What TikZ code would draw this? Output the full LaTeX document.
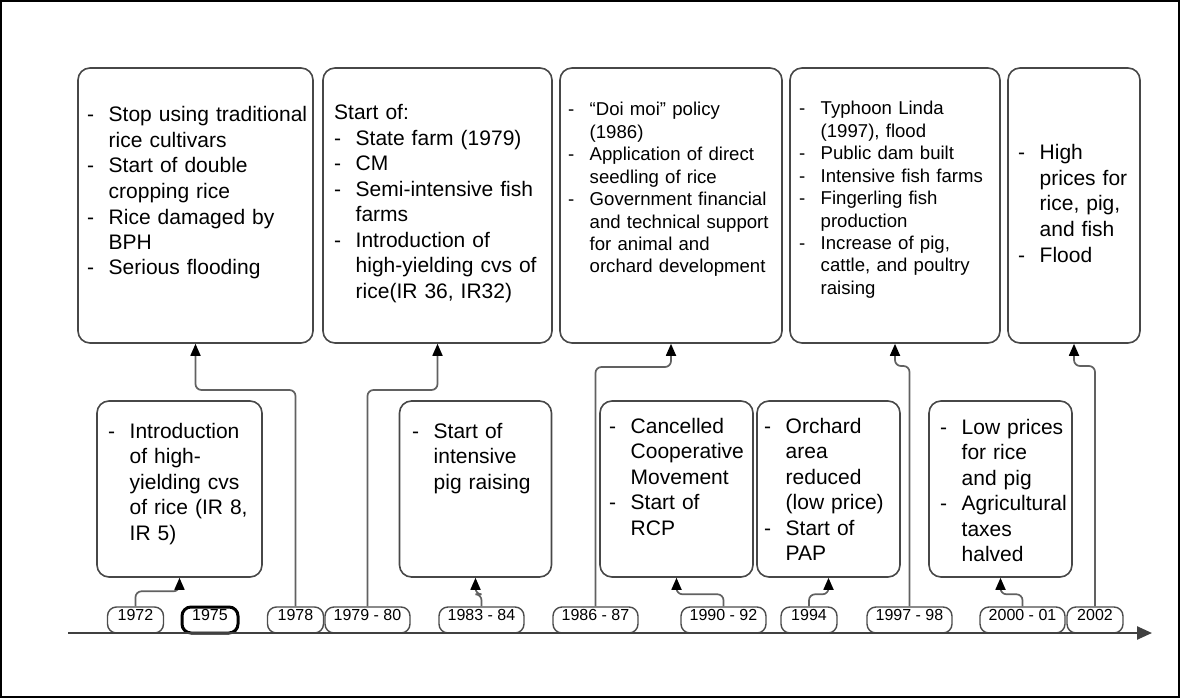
\documentclass[tikz,border=0pt]{standalone}
\usepackage{fontspec}
\setmainfont{Liberation Sans}
\usetikzlibrary{arrows.meta}

\newcommand{\itm}{\makebox[21.5pt][l]{-}}
\newcommand{\cont}{\hspace*{21.5pt}}

\begin{document}
\begin{tikzpicture}[x=1pt, y=-1pt, % pixel like coordinates, y going down
	> = {Triangle[length=12pt,width=10pt,color=black]}, % arrow head style
	eventbox/.style={draw=black!72, line width=1.6pt, rounded corners=12pt, fill=white, inner sep=0pt},
	evtext/.style={anchor=base west, align=left, text width=240pt, inner sep=0pt, font=\fontsize{21}{25.5}\selectfont},
	evsmall/.style={evtext, font=\fontsize{18.6}{22.4}\selectfont},
	yearpill/.style={draw=black!70, line width=1.4pt, rounded corners=9pt, fill=white, minimum width=56pt, minimum height=26pt, inner sep=0pt, text depth=10pt, font=\fontsize{16}{18}\selectfont},
	yearspan/.style={yearpill, minimum width=85pt},
	link/.style={draw=black!62, line width=1.7pt, rounded corners=6pt, ->},
	axisline/.style={draw=black!75, line width=2.4pt, -{Triangle[length=15pt,width=13pt]}}]
	\useasboundingbox (0,0) rectangle (1180,698);
	\draw[line width=2pt] (1,1) rectangle (1179,697);

	% upper row of events
	\node[eventbox, minimum width=235pt, minimum height=275pt] (e1978) at (195.5,205.5) {};
	\node[eventbox, minimum width=229pt, minimum height=275pt] (e1979) at (437.5,205.5) {};
	\node[eventbox, minimum width=222pt, minimum height=275pt] (e1986) at (671,205.5) {};
	\node[eventbox, minimum width=210pt, minimum height=275pt] (e1997) at (895,205.5) {};
	\node[eventbox, minimum width=132pt, minimum height=275pt] (e2002) at (1074,205.5) {};

	% lower row of events
	\node[eventbox, minimum width=165pt, minimum height=176pt] (e1972) at (179.5,489) {};
	\node[eventbox, minimum width=152pt, minimum height=176pt] (e1983) at (475.5,489) {};
	\node[eventbox, minimum width=153pt, minimum height=176pt] (e1990) at (676.5,489) {};
	\node[eventbox, minimum width=143pt, minimum height=176pt] (e1994) at (828.5,489) {};
	\node[eventbox, minimum width=143pt, minimum height=176pt] (e2000) at (1000.5,489) {};

	\node[evtext] (t1978) at (87,122) {\itm Stop using traditional\\ \cont rice cultivars\\ \itm Start of double\\ \cont cropping rice\\ \itm Rice damaged by\\ \cont BPH\\ \itm Serious flooding};
	\node[evtext] (t1979) at (334,120) {Start of:\\ \itm State farm (1979)\\ \itm CM\\ \itm Semi-intensive fish\\ \cont farms\\ \itm Introduction of\\ \cont high-yielding cvs of\\ \cont rice(IR 36, IR32)};
	\node[evsmall] (t1986) at (568,116) {\itm “Doi moi” policy\\ \cont (1986)\\ \itm Application of direct\\ \cont seedling of rice\\ \itm Government financial\\ \cont and technical support\\ \cont for animal and\\ \cont orchard development};
	\node[evsmall] (t1997) at (799,115) {\itm Typhoon Linda\\ \cont (1997), flood\\ \itm Public dam built\\ \itm Intensive fish farms\\ \itm Fingerling fish\\ \cont production\\ \itm Increase of pig,\\ \cont cattle, and poultry\\ \cont raising};
	\node[evtext] (t2002) at (1018,160) {\itm High\\ \cont prices for\\ \cont rice, pig,\\ \cont and fish\\ \itm Flood};

	\node[evtext] (t1972) at (108,438) {\itm Introduction\\ \cont of high-\\ \cont yielding cvs\\ \cont of rice (IR 8,\\ \cont IR 5)};
	\node[evtext] (t1983) at (412,438) {\itm Start of\\ \cont intensive\\ \cont pig raising};
	\node[evtext] (t1990) at (609,433) {\itm Cancelled\\ \cont Cooperative\\ \cont Movement\\ \itm Start of\\ \cont RCP};
	\node[evtext] (t1994) at (764,433) {\itm Orchard\\ \cont area\\ \cont reduced\\ \cont (low price)\\ \itm Start of\\ \cont PAP};
	\node[evtext] (t2000) at (940,434) {\itm Low prices\\ \cont for rice\\ \cont and pig\\ \itm Agricultural\\ \cont taxes\\ \cont halved};

	% years on the time line
	\node[yearpill] (y1972) at (135.5,620) {1972};
	\node[yearpill, draw=black, line width=3pt] (y1975) at (210,620) {1975};
	\node[yearpill] (y1978) at (295.5,620) {1978};
	\node[yearspan] (y1979) at (367.5,620) {1979 - 80};
	\node[yearspan] (y1983) at (481.5,620) {1983 - 84};
	\node[yearspan] (y1986) at (595.5,620) {1986 - 87};
	\node[yearspan] (y1990) at (723.5,620) {1990 - 92};
	\node[yearpill] (y1994) at (809,620) {1994};
	\node[yearspan] (y1997) at (909.5,620) {1997 - 98};
	\node[yearspan] (y2000) at (1022.5,620) {2000 - 01};
	\node[yearpill] (y2002) at (1095,620) {2002};

	\coordinate (tstart) at (68,633);
	\coordinate (tend) at (1152,633);
	\draw[axisline] (tstart) -- (tend);

	\draw[link] (y1972.north) -- ++(0,-15) -| (e1972.south);
	\draw[link] (y1978.north) -- (y1978.north |- 0,390) -| (e1978.south);
	\draw[link] (y1979.north) -- (y1979.north |- 0,390) -| (e1979.south);
	\draw[link] (y1983.north) -- ++(0,-12) -| (e1983.south);
	\draw[link] (y1986.north) -- (y1986.north |- 0,367) -| (e1986.south);
	\draw[link] (y1990.north) -- ++(0,-12) -| (e1990.south);
	\draw[link] (y1994.north) -- ++(0,-12) -| (e1994.south);
	\draw[link] (y1997.north) -- (y1997.north |- 0,366) -| (e1997.south);
	\draw[link] (y2000.north) -- ++(0,-12) -| (e2000.south);
	\draw[link] (y2002.north) -- (y2002.north |- 0,366) -| (e2002.south);

\end{tikzpicture}
\end{document}
